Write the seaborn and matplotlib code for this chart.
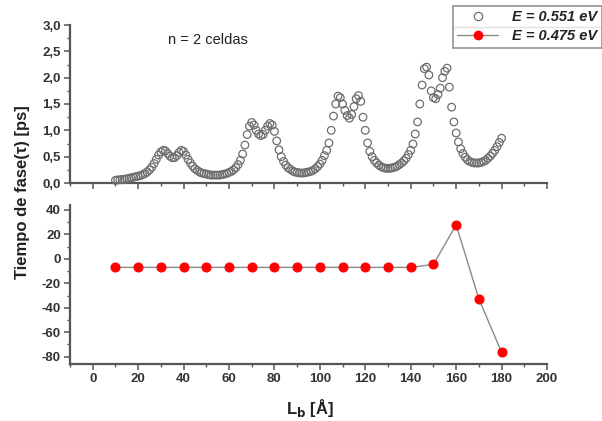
import numpy as np
import pandas as pd
import matplotlib
matplotlib.use("Agg")
import matplotlib.pyplot as plt
import seaborn as sns
from matplotlib.ticker import MultipleLocator, FuncFormatter
from matplotlib.lines import Line2D

# ---- data ----
lb_top = list(range(10, 181))
tau_551 = [
    0.05, 0.06, 0.06, 0.07, 0.07, 0.08, 0.09, 0.10, 0.11, 0.12,   # 10-19
    0.13, 0.14, 0.16, 0.18, 0.21, 0.25, 0.30, 0.37, 0.45, 0.53,   # 20-29
    0.59, 0.62, 0.61, 0.56, 0.51, 0.48, 0.48, 0.52, 0.58, 0.62,   # 30-39
    0.60, 0.53, 0.45, 0.38, 0.32, 0.27, 0.24, 0.21, 0.19, 0.18,   # 40-49
    0.17, 0.16, 0.15, 0.15, 0.15, 0.15, 0.15, 0.16, 0.17, 0.18,   # 50-59
    0.20, 0.22, 0.25, 0.29, 0.35, 0.43, 0.55, 0.72, 0.92, 1.08,   # 60-69
    1.15, 1.10, 1.00, 0.93, 0.90, 0.92, 1.00, 1.08, 1.13, 1.10,   # 70-79
    0.98, 0.80, 0.63, 0.50, 0.41, 0.34, 0.29, 0.26, 0.23, 0.21,   # 80-89
    0.20, 0.19, 0.19, 0.19, 0.20, 0.21, 0.22, 0.24, 0.27, 0.31,   # 90-99
    0.36, 0.43, 0.52, 0.62, 0.76, 1.00, 1.27, 1.50, 1.65, 1.62,   # 100-109
    1.50, 1.38, 1.28, 1.23, 1.30, 1.45, 1.60, 1.66, 1.55, 1.25,   # 110-119
    1.00, 0.76, 0.60, 0.50, 0.43, 0.38, 0.34, 0.31, 0.29, 0.28,   # 120-129
    0.28, 0.28, 0.29, 0.30, 0.32, 0.35, 0.38, 0.42, 0.47, 0.54,   # 130-139
    0.62, 0.74, 0.93, 1.16, 1.50, 1.86, 2.17, 2.20, 2.05, 1.75,   # 140-149
    1.62, 1.60, 1.68, 1.80, 2.00, 2.12, 2.18, 1.82, 1.44, 1.16,   # 150-159
    0.95, 0.78, 0.65, 0.56, 0.49, 0.44, 0.41, 0.39, 0.38, 0.38,   # 160-169
    0.38, 0.39, 0.41, 0.43, 0.47, 0.51, 0.56, 0.62, 0.69, 0.77,   # 170-179
    0.85,                                                         # 180
]
lb_bot = [10, 20, 30, 40, 50, 60, 70, 80, 90, 100, 110, 120, 130, 140, 150, 160, 170, 180]
tau_475 = [-7, -7, -7, -7, -7, -7, -7, -7, -7, -7, -7, -7, -7, -7, -4.6, 27.8, -32.7, -76.5]

label_551 = "E = 0.551 eV"
label_475 = "E = 0.475 eV"

df_top = pd.DataFrame({"Lb": lb_top, "tau": tau_551})
df_bot = pd.DataFrame({"Lb": lb_bot, "tau": tau_475})

# ---- style ----
sns.set_style("ticks")
plt.rcParams["font.family"] = ["Liberation Sans", "DejaVu Sans"]
plt.rcParams["font.weight"] = "bold"
plt.rcParams["axes.unicode_minus"] = False

axcol = "#555555"
W, H = 602, 421
fig = plt.figure(figsize=(W / 100, H / 100), dpi=100)
fig.patch.set_facecolor("white")

left = 70 / W
width = 477 / W
ax1 = fig.add_axes([left, 1 - 183 / H, width, 158 / H])
ax2 = fig.add_axes([left, 1 - 364 / H, width, 159 / H])

# top panel
sns.scatterplot(data=df_top, x="Lb", y="tau", ax=ax1, marker="o", s=30,
                facecolor="none", edgecolor="#6e6e6e", linewidth=0.9,
                label=label_551, legend=False, clip_on=False, zorder=3)
ax1.set_xlim(-10, 200)
ax1.set_ylim(0, 3.0)
ax1.yaxis.set_major_locator(MultipleLocator(0.5))
ax1.yaxis.set_minor_locator(MultipleLocator(0.25))
ax1.xaxis.set_major_locator(MultipleLocator(20))
ax1.xaxis.set_minor_locator(MultipleLocator(10))
ax1.yaxis.set_major_formatter(FuncFormatter(lambda v, p: f"{v:.1f}".replace(".", ",")))
ax1.tick_params(axis="x", labelbottom=False)
ax1.set_xlabel("")
ax1.set_ylabel("")
ax1.text(208 / W, 1 - 40 / H, "n = 2 celdas", transform=fig.transFigure, ha="center",
         va="center", fontsize=10.5, fontweight="normal", color="#222222")

# bottom panel
sns.lineplot(data=df_bot, x="Lb", y="tau", ax=ax2, color="#8a8a8a", linewidth=1.0,
             marker="o", markersize=6.5, markerfacecolor="#ff0000",
             markeredgecolor="#ff0000", label=label_475, legend=False, zorder=3)
ax2.set_xlim(-10, 200)
ax2.set_ylim(-86, 44)
ax2.yaxis.set_major_locator(MultipleLocator(20))
ax2.yaxis.set_minor_locator(MultipleLocator(10))
ax2.xaxis.set_major_locator(MultipleLocator(20))
ax2.xaxis.set_minor_locator(MultipleLocator(10))
ax2.set_xlabel("")
ax2.set_ylabel("")
fig.text(310 / W, 1 - 408 / H, "L$_\\mathbf{b}$ [Å]", ha="center", va="center",
         fontsize=12, fontweight="bold", color="#222222")

for ax in (ax1, ax2):
    sns.despine(ax=ax)
    for sp in ("left", "bottom"):
        ax.spines[sp].set_color(axcol)
        ax.spines[sp].set_linewidth(1.6)
    ax.tick_params(which="major", length=4, width=1.1, color=axcol,
                   labelsize=9.5, labelcolor="#333333", pad=2.5)
    ax.tick_params(which="minor", length=2.5, width=1.0, color=axcol)
    for t in ax.get_xticklabels() + ax.get_yticklabels():
        t.set_fontweight("bold")

fig.text(23 / W, 1 - 192 / H, "Tiempo de fase(τ) [ps]", rotation=90,
         ha="center", va="center", fontsize=12, fontweight="bold", color="#222222")

# legend
h1 = Line2D([], [], linestyle="none", marker="o", markersize=6,
            markerfacecolor="none", markeredgecolor="#6e6e6e", markeredgewidth=0.9)
h2 = Line2D([], [], color="#8a8a8a", linewidth=1.0, marker="o", markersize=6,
            markerfacecolor="#ff0000", markeredgecolor="#ff0000")
leg = fig.legend([h1, h2], [label_551, label_475], loc="upper right",
                 bbox_to_anchor=(1.0, 1 - 6 / H), frameon=True, fancybox=False,
                 edgecolor="#777777", fontsize=10.5, handlelength=2.8,
                 borderpad=0.3, labelspacing=0.35, handletextpad=1.0,
                 borderaxespad=0.0)
leg.get_frame().set_linewidth(1.2)
for t in leg.get_texts():
    t.set_fontweight("bold")
    t.set_fontstyle("italic")
    t.set_color("#222222")

fig.canvas.draw()
bb = leg.get_window_extent().transformed(fig.transFigure.inverted())
ymid = (bb.y0 + bb.y1) / 2
fig.add_artist(Line2D([bb.x0, bb.x1], [ymid, ymid],
                      transform=fig.transFigure, color="#777777", linewidth=1.0))

fig.savefig("out.png", dpi=100)
